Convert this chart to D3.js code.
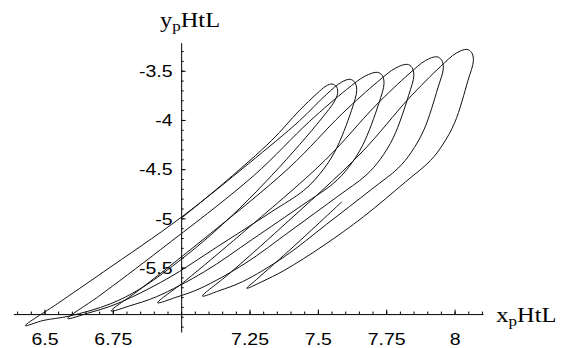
<!DOCTYPE html>
<html lang="en">
<head>
<meta charset="UTF-8">
<title>x_p(t) vs y_p(t)</title>
<script src="https://d3js.org/d3.v7.min.js"></script>
<style>
  body { margin: 0; background: #fff; }
  svg { display: block; }
  .tick text { font-family: "Liberation Sans", Arial, sans-serif; font-size: 16px; fill: #000; }
  .axlabel { font-family: "Liberation Serif", "Times New Roman", serif; font-size: 20px; fill: #000; }
</style>
</head>
<body>
<script>

// trajectory: start point, then one loop per cap (rise -> cap -> fall to tip)
const start = [7, -5];
const loop1 = [[7.166,-4.618],[7.331,-4.208],[7.431,-3.908],[7.497,-3.731],[7.530,-3.655],[7.552,-3.635],[7.569,-3.666],[7.572,-3.730],[7.559,-3.818],[7.515,-3.981],[7.434,-4.248],[7.332,-4.562],[7.215,-4.895],[7.087,-5.220],[6.959,-5.505],[6.849,-5.718],[6.740,-5.870],[6.593,-5.992],[6.495,-6.038],[6.430,-6.091]];
const loop2 = [[6.549,-5.864],[6.715,-5.546],[7.0,-4.99],[7.247,-4.443],[7.433,-4.008],[7.531,-3.741],[7.587,-3.615],[7.618,-3.587],[7.635,-3.618],[7.642,-3.699],[7.623,-3.903],[7.561,-4.328],[7.504,-4.559],[7.448,-4.717],[7.329,-4.936],[7.132,-5.289],[6.947,-5.617],[6.761,-5.872],[6.657,-5.965],[6.585,-6.018]];
const loop3 = [[6.698,-5.793],[6.925,-5.317],[7.265,-4.567],[7.469,-4.016],[7.605,-3.691],[7.673,-3.554],[7.718,-3.516],[7.735,-3.547],[7.742,-3.628],[7.723,-3.831],[7.664,-4.256],[7.611,-4.486],[7.557,-4.644],[7.445,-4.862],[7.260,-5.214],[7.085,-5.542],[6.910,-5.796],[6.812,-5.889],[6.744,-5.942]];
const loop4 = [[6.852,-5.716],[7.069,-5.240],[7.394,-4.488],[7.589,-3.936],[7.719,-3.611],[7.784,-3.473],[7.827,-3.435],[7.844,-3.466],[7.851,-3.547],[7.832,-3.750],[7.777,-4.174],[7.727,-4.404],[7.676,-4.562],[7.571,-4.780],[7.398,-5.131],[7.234,-5.458],[7.069,-5.713],[6.978,-5.805],[6.914,-5.858]];
const loop5 = [[7.016,-5.633],[7.220,-5.158],[7.527,-4.408],[7.710,-3.858],[7.833,-3.533],[7.894,-3.396],[7.935,-3.358],[7.952,-3.389],[7.959,-3.470],[7.939,-3.674],[7.888,-4.100],[7.841,-4.331],[7.794,-4.489],[7.695,-4.708],[7.532,-5.060],[7.378,-5.389],[7.224,-5.644],[7.138,-5.736],[7.078,-5.790]];
const loop6 = [[7.175,-5.564],[7.368,-5.088],[7.658,-4.336],[7.832,-3.784],[7.948,-3.459],[8.006,-3.321],[8.045,-3.283],[8.062,-3.314],[8.069,-3.395],[8.049,-3.599],[8.001,-4.024],[7.956,-4.254],[7.912,-4.412],[7.820,-4.631],[7.667,-4.983],[7.522,-5.274],[7.377,-5.529],[7.296,-5.643],[7.240,-5.711]];
const tail = [[7.275,-5.623],[7.413,-5.282],[7.588,-4.831]];

// tick labels
const xTicks = [6.5, 6.75, 7.25, 7.5, 7.75, 8];
const yTicks = [-3.5, -4, -4.5, -5, -5.5];

const width = 566, height = 348;
const stretch = 1.22; // text in the picture is widened

const x = d3.scaleLinear().domain([6.386, 8.104]).range([13.3, 483]);
const y = d3.scaleLinear().domain([-6.155, -3.215]).range([332, 42.7]);

const svg = d3.select("body").append("svg")
    .attr("width", width)
    .attr("height", height);

// x axis crosses at y = -5.973, y axis at x = 7
const xMinor = d3.range(6.4, 8.101, 0.05);
const yMinor = d3.range(-6.1, -3.299, 0.1);

const xAxisG = svg.append("g").attr("transform", "translate(0," + y(-5.973) + ")");
xAxisG.append("g")
    .call(d3.axisBottom(x).tickValues(xMinor).tickSize(-2.5).tickSizeOuter(0).tickFormat(""));
xAxisG.append("g")
    .call(d3.axisBottom(x).tickValues(xTicks).tickSize(-4.5).tickSizeOuter(0).tickFormat(d3.format("")))
    .call(g => g.select(".domain").remove())
    .selectAll("text")
      .attr("y", 31).attr("dy", null)
      .attr("transform", "scale(" + stretch + ",1)");

const yAxisG = svg.append("g").attr("transform", "translate(" + x(7) + ",0)");
yAxisG.append("g")
    .call(d3.axisLeft(y).tickValues(yMinor).tickSize(-2.5).tickSizeOuter(0).tickFormat(""));
yAxisG.append("g")
    .call(d3.axisLeft(y).tickValues(yTicks).tickSize(-4.5).tickSizeOuter(0).tickFormat(d3.format("")))
    .call(g => g.select(".domain").remove())
    .selectAll("text")
      .attr("x", -7).attr("dy", "0.36em")
      .attr("transform", "scale(" + stretch + ",1)");

svg.selectAll(".domain, .tick line").attr("stroke", "#000").attr("stroke-width", 1);
svg.selectAll(".tick text").text(function () { return this.textContent.replace("\u2212", "-"); });

// the trajectory
const pts = [start].concat(loop1, loop2, loop3, loop4, loop5, loop6, tail);
const line = d3.line()
    .x(d => x(d[0]))
    .y(d => y(d[1]))
    .curve(d3.curveCatmullRom.alpha(0.5));

svg.append("path")
    .datum(pts)
    .attr("d", line)
    .attr("fill", "none")
    .attr("stroke", "#111")
    .attr("stroke-width", 1);

// axis labels
function axisLabel(px, py, letter) {
  const t = svg.append("text")
      .attr("class", "axlabel")
      .attr("transform", "translate(" + px + "," + py + ") scale(" + stretch + ",1)");
  t.append("tspan").text(letter);
  t.append("tspan").attr("font-size", "14px").attr("dy", 4).text("p");
  t.append("tspan").attr("dy", -4).text("HtL");
}
axisLabel(160, 26.7, "y");
axisLabel(496.3, 322.3, "x");

</script>
</body>
</html>
